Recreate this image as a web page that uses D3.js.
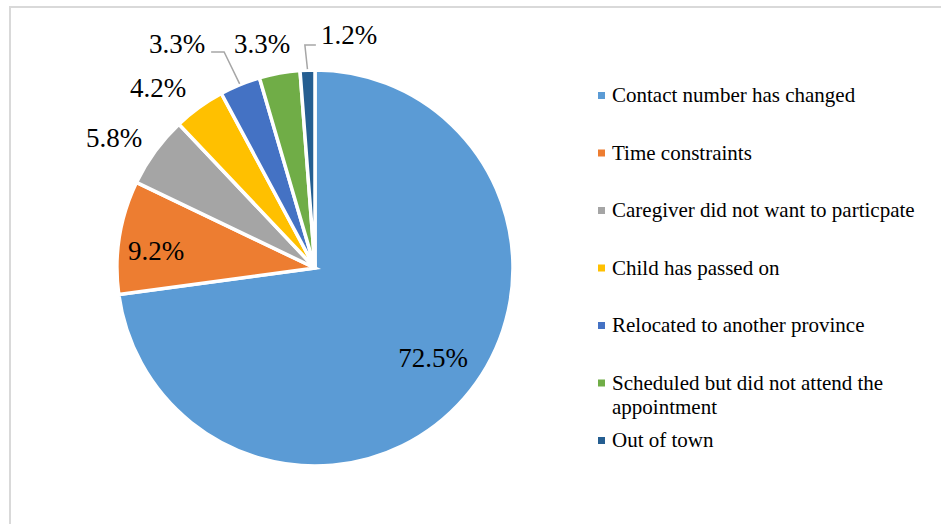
<!DOCTYPE html>
<html>
<head>
<meta charset="utf-8">
<script src="https://cdn.jsdelivr.net/npm/d3@7"></script>
<style>
  html, body { margin: 0; padding: 0; background: #fff; }
  svg { display: block; }
</style>
</head>
<body>
<svg id="chart" width="941" height="524"></svg>
<script>
// Reasons for loss to follow-up (percent of caregivers)
const categories = [
  "Contact number has changed",
  "Time constraints",
  "Caregiver did not want to particpate",
  "Child has passed on",
  "Relocated to another province",
  "Scheduled but did not attend the appointment",
  "Out of town"
];
const values = [72.5, 9.2, 5.8, 4.2, 3.3, 3.3, 1.2];
const colors = ["#5B9BD5", "#ED7D31", "#A5A5A5", "#FFC000", "#4472C4", "#70AD47", "#255E91"];

// Data-label placement relative to the pie centre, and which labels get a leader line
const labelOffsets = [[118, 99], [-159, -8], [-201, -121], [-157, -171], [-138, -215], [-53, -215], [34, -224]];
const leaderSide = [null, null, null, null, "left", null, "right"];
// Legend entries that wrap onto two lines
const legendLines = [
  ["Contact number has changed"],
  ["Time constraints"],
  ["Caregiver did not want to particpate"],
  ["Child has passed on"],
  ["Relocated to another province"],
  ["Scheduled but did not attend the", "appointment"],
  ["Out of town"]
];

const FONT = "Liberation Serif";
const svg = d3.select("#chart");

// Chart frame
svg.append("path")
  .attr("d", "M10,530 L10,7 L950,7")
  .attr("fill", "none")
  .attr("stroke", "#d9d9d9")
  .attr("stroke-width", 2);

const cx = 315, cy = 268, radius = 198;
const g = svg.append("g").attr("transform", `translate(${cx},${cy})`);

const pie = d3.pie().sort(null).value(d => d)(values);
const arc = d3.arc().innerRadius(0).outerRadius(radius);

g.selectAll("path.slice")
  .data(pie)
  .join("path")
  .attr("class", "slice")
  .attr("d", arc)
  .attr("fill", (d, i) => colors[i])
  .attr("stroke", "#fff")
  .attr("stroke-width", 3.5)
  .attr("stroke-linejoin", "miter");

// Data labels
const fmt = d => d.toFixed(1) + "%";
const labels = g.selectAll("text.lbl")
  .data(pie)
  .join("text")
  .attr("class", "lbl")
  .attr("x", (d, i) => labelOffsets[i][0])
  .attr("y", (d, i) => labelOffsets[i][1])
  .attr("text-anchor", "middle")
  .attr("font-family", FONT)
  .attr("font-size", 27)
  .attr("fill", "#000")
  .text(d => fmt(d.data));

// Leader lines from slice edge to label
labels.each(function (d, i) {
  const side = leaderSide[i];
  if (!side) return;
  const w = this.getComputedTextLength();
  const [lx, ly] = labelOffsets[i];
  const mid = (d.startAngle + d.endAngle) / 2;
  const sx = Math.sin(mid) * (radius + 1);
  const sy = -Math.cos(mid) * (radius + 1);
  let ex, bx, yy;
  if (side === "left") {
    ex = lx + w / 2 + 6; bx = ex + 13; yy = ly - 1;
  } else {
    ex = lx - w / 2 - 5; bx = ex - 11; yy = ly + 1;
  }
  g.append("polyline")
    .attr("points", `${sx},${sy} ${bx},${yy} ${ex},${yy}`)
    .attr("fill", "none")
    .attr("stroke", "#a6a6a6")
    .attr("stroke-width", 1.5);
});

// Legend
const legY = d3.scalePoint().domain(d3.range(categories.length)).range([102, 447]);
const leg = svg.append("g");
const items = leg.selectAll("g.item")
  .data(categories)
  .join("g")
  .attr("class", "item")
  .attr("transform", (d, i) => `translate(598,${legY(i)})`);

items.append("rect")
  .attr("x", 0).attr("y", -10)
  .attr("width", 7).attr("height", 7)
  .attr("fill", (d, i) => colors[i]);

items.append("text")
  .attr("x", 14)
  .attr("y", 0)
  .attr("font-family", FONT)
  .attr("font-size", 21)
  .attr("fill", "#000")
  .selectAll("tspan")
  .data((d, i) => legendLines[i])
  .join("tspan")
  .attr("x", 14)
  .attr("dy", (t, j) => j === 0 ? 0 : 24)
  .text(t => t);
</script>
</body>
</html>
